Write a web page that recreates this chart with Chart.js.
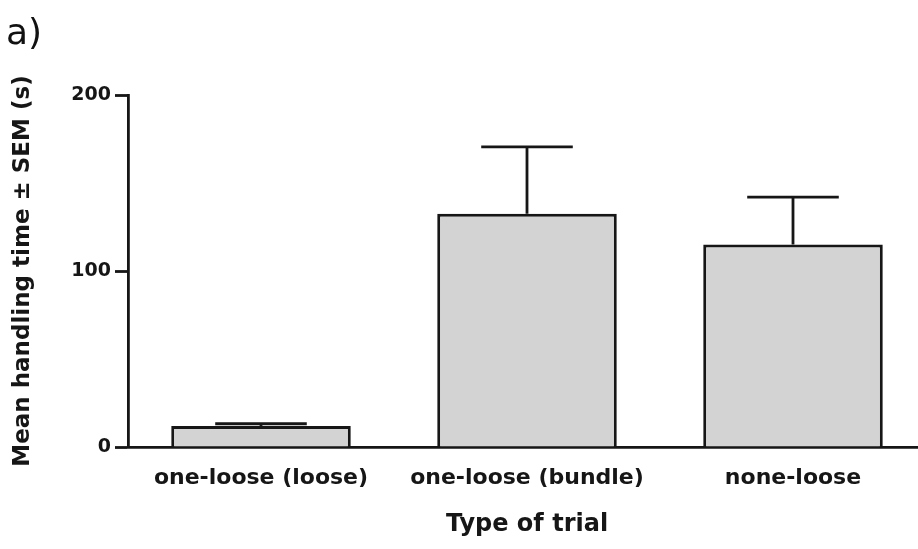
<!DOCTYPE html>
<html>
<head>
<meta charset="utf-8">
<script src="https://cdn.jsdelivr.net/npm/chart.js@4.4.1/dist/chart.umd.min.js"></script>
<style>
  html, body { margin: 0; padding: 0; background: #fff; overflow: hidden; }
  #wrap { position: relative; width: 926px; height: 549px; }
  #panel { position: absolute; left: 6px; top: 11px; font: 36px "DejaVu Sans", sans-serif; color: #111; }
</style>
</head>
<body>
<div id="wrap">
  <canvas id="chart"></canvas>
  <div id="panel">a)</div>
</div>
<script>
const categories = ['one-loose (loose)', 'one-loose (bundle)', 'none-loose']
const meanTime = [12, 132.5, 115]
const semTime = [1.2, 38, 27]
const yTicks = [0, 100, 200]

const ink = '#161616'
const boldFont = (size) => ({ family: 'DejaVu Sans', size: size, weight: 'bold' })

// upper SEM whiskers, drawn from the bar elements and the y scale
const errorBars = {
  id: 'errorBars',
  afterDatasetsDraw(chart) {
    const { ctx, scales } = chart
    const bars = chart.getDatasetMeta(0).data
    ctx.save()
    ctx.strokeStyle = ink
    ctx.lineWidth = 2.8
    bars.forEach((bar, i) => {
      const top = scales.y.getPixelForValue(meanTime[i])
      const tip = scales.y.getPixelForValue(meanTime[i] + semTime[i])
      const half = bar.width * 0.255
      ctx.beginPath()
      ctx.moveTo(bar.x, top)
      ctx.lineTo(bar.x, tip)
      ctx.moveTo(bar.x - half, tip)
      ctx.lineTo(bar.x + half, tip)
      ctx.stroke()
    })
    ctx.restore()
  }
}

new Chart(document.getElementById('chart'), {
  type: 'bar',
  data: {
    labels: categories,
    datasets: [
      {
        label: 'Mean handling time',
        data: meanTime,
        backgroundColor: '#d3d3d3',
        borderColor: ink,
        borderWidth: 3,
        borderSkipped: 'bottom',
        categoryPercentage: 1,
        barPercentage: 0.675
      }
    ]
  },
  options: {
    responsive: true,
    maintainAspectRatio: false,
    animation: false,
    layout: { padding: { top: 95, right: 0, bottom: 0, left: 0 } },
    plugins: {
      legend: { display: false },
      tooltip: { enabled: false }
    },
    scales: {
      x: {
        grid: { display: false },
        border: { display: true, color: ink, width: 2.8 },
        ticks: { color: ink, font: boldFont(22), padding: 10, maxRotation: 0 },
        title: { display: true, text: 'Type of trial', color: ink, font: boldFont(24), padding: { top: 0, bottom: 10 } },
        afterFit: (scale) => { scale.height = 102 }
      },
      y: {
        min: 0,
        max: 200,
        afterBuildTicks: (scale) => { scale.ticks = yTicks.map(v => ({ value: v })) },
        grid: { display: true, drawOnChartArea: false, drawTicks: true, tickLength: 13, tickWidth: 2.8, tickColor: ink },
        border: { display: true, color: ink, width: 2.8 },
        ticks: { color: ink, font: boldFont(19), padding: 4 },
        title: { display: true, text: 'Mean handling time ± SEM (s)', color: ink, font: boldFont(23), padding: { top: 9, bottom: 0 } },
        afterFit: (scale) => { scale.width = 128 }
      }
    }
  },
  plugins: [errorBars]
})
</script>
</body>
</html>
